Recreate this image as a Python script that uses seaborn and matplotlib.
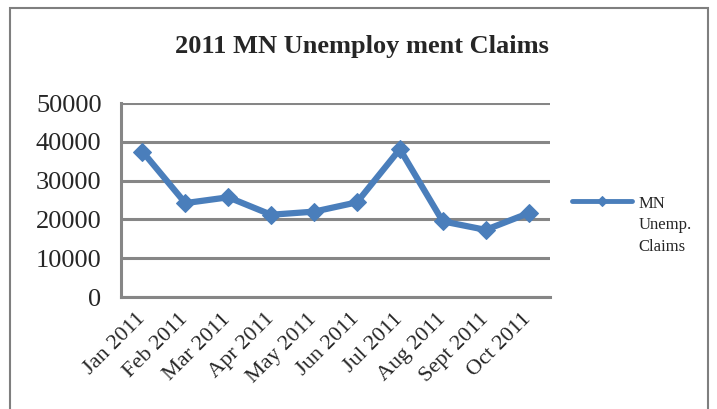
import matplotlib
matplotlib.use('Agg')
import matplotlib.pyplot as plt
import matplotlib.patches as mpatches
import seaborn as sns
import pandas as pd
import numpy as np

# 데이터
months = ['Jan 2011', 'Feb 2011', 'Mar 2011', 'Apr 2011', 'May 2011',
          'Jun 2011', 'Jul 2011', 'Aug 2011', 'Sept 2011', 'Oct 2011']
claims = [37500, 24200, 25700, 21200, 22000, 24400, 38100, 19500, 17300, 21600]
y_ticks = [0, 10000, 20000, 30000, 40000, 50000]

sns.set_style('white')
plt.rcParams['font.family'] = ['Liberation Serif', 'DejaVu Serif']

LINE = '#4A7EBB'
GRID = '#868686'

df = pd.DataFrame({'month': months, 'claims': claims, 'pos': np.arange(len(months))})

fig = plt.figure(figsize=(7.17, 4.09), dpi=100)
ax = fig.add_axes([121 / 717, 1 - 297 / 409, (550 - 121) / 717, (297 - 103) / 409])

sns.lineplot(data=df, x='pos', y='claims', ax=ax, color=LINE, linewidth=4.5,
             marker='D', markersize=9, markeredgecolor=LINE, label='MN\nUnemp.\nClaims')

ax.set_xlim(-0.5, len(months) - 0.5)
ax.set_ylim(0, 50000)
ax.set_yticks(y_ticks)
ax.set_yticklabels([str(v) for v in y_ticks], fontsize=19)
ax.set_xticks(df['pos'])
ax.set_xticklabels(months, rotation=45, ha='right', va='center',
                   rotation_mode='anchor', fontsize=16)
ax.set_xticks(np.arange(-0.5, len(months)), minor=True)
ax.tick_params(axis='x', which='major', length=0, pad=14)
ax.tick_params(axis='x', which='minor', length=7, width=2, direction='inout', color=GRID)
ax.tick_params(axis='y', length=8, width=2, direction='out', color=GRID, pad=6)
ax.set_xlabel('')
ax.set_ylabel('')

ax.grid(axis='y', color=GRID, linewidth=2.2)
ax.set_axisbelow(True)
for side in ['top', 'right']:
    ax.spines[side].set_visible(False)
for side in ['left', 'bottom']:
    ax.spines[side].set_color(GRID)
    ax.spines[side].set_linewidth(2.2)

ax.set_title('2011 MN Unemploy ment Claims', fontsize=19, fontweight='bold', pad=0,
             x=(362 - 121) / (550 - 121), y=1 + (103 - 46) / (297 - 103), va='center')

leg = ax.legend(loc='center left', bbox_to_anchor=(1.0, 0.37), frameon=False,
                fontsize=12, handlelength=3.6, handletextpad=0.4, borderaxespad=0.9,
                markerscale=0.55)
for t in leg.get_texts():
    t.set_linespacing(1.45)
for ln in leg.get_lines():
    ln.set_linewidth(3.5)
    ln.set_ydata(np.asarray(ln.get_ydata()) + 12 * 1.45)

# 차트 영역 테두리
fig.patches.append(mpatches.Rectangle((10 / 717, -0.05), (708 - 10) / 717, 1.05 - 8 / 409,
                                      transform=fig.transFigure, fill=False,
                                      edgecolor='#7F7F7F', linewidth=1.5))

fig.savefig('out.png', dpi=100)
